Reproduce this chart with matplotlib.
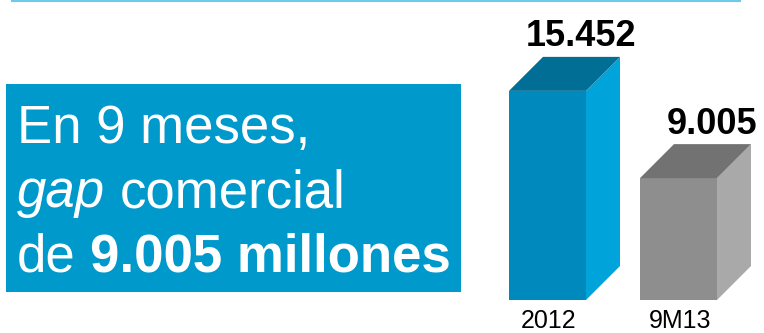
import matplotlib.pyplot as plt
from matplotlib.lines import Line2D
from matplotlib.patches import Polygon, Rectangle

# Chart data
categories = ['2012', '9M13']
values = [15452, 9005]

# Face colours of each 3D column
front_colors = ['#0089bc', '#8e8e8e']
side_colors = ['#00a3da', '#a9a9a9']
top_colors = ['#006e95', '#727272']

# Headline text, one list of (text, weight, style) runs per line
headline = [
    [('En 9 meses,', 'normal', 'normal')],
    [('gap', 'normal', 'italic'), ('comercial', 'normal', 'normal')],
    [('de', 'normal', 'normal'), ('9.005 millones', 'bold', 'normal')],
]

W, H = 764, 333
plt.rcParams['font.family'] = ['Liberation Sans', 'DejaVu Sans']
fig = plt.figure(figsize=(W / 100, H / 100), dpi=100)

# Thin rule across the top
fig.add_artist(Line2D([12 / W, 740 / W], [1 - 1 / H, 1 - 1 / H],
                      color='#6ccbe8', lw=1.5))

# Blue headline box
fig.add_artist(Rectangle((6 / W, 1 - 292 / H), 455 / W, 208 / H,
                         color='#0099cc', transform=fig.transFigure, lw=0))


def write_runs(runs, x_px, base_px, size):
    """Write styled runs one after another on a common baseline."""
    renderer = fig.canvas.get_renderer()
    space = 0.278 * size * 100 / 72
    x = x_px
    for s, weight, style in runs:
        t = fig.text(x / W, 1 - base_px / H, s, color='white',
                     fontsize=size, fontweight=weight, fontstyle=style,
                     ha='left', va='baseline')
        x += t.get_window_extent(renderer).width + space


for line, base in zip(headline, [143, 207, 272]):
    write_runs(line, 17, base, 38)

# 3D columns
ax = fig.add_axes([490 / W, 33 / H, 274 / W, 300 / H])
step = 131.0                    # px between column centres
scale = 0.013534                # px per unit of value
ax.set_xlim(-57.5 / step, (274 - 57.5) / step)
ax.set_ylim(0, 300 / scale)
ax.axis('off')

width = 77 / step
dx = 34 / step
dy = 34 / scale
xs = range(len(values))

ax.bar(xs, values, width=width, color=front_colors, lw=0)
for i, v in zip(xs, values):
    x0, x1 = i - width / 2, i + width / 2
    ax.add_patch(Polygon([(x1, 0), (x1 + dx, dy), (x1 + dx, v + dy), (x1, v)],
                         closed=True, color=side_colors[i], lw=0, clip_on=False))
    ax.add_patch(Polygon([(x0, v), (x1, v), (x1 + dx, v + dy), (x0 + dx, v + dy)],
                         closed=True, color=top_colors[i], lw=0, clip_on=False))
    ax.annotate(f'{v:,}'.replace(',', '.'), xy=(i + dx, v + dy),
                xytext=(0, 7.5), textcoords='offset points',
                ha='center', va='baseline', fontsize=26, fontweight='bold',
                color='black', annotation_clip=False)
    ax.annotate(categories[i], xy=(i, 0), xytext=(1, -20),
                textcoords='offset points', ha='center', va='baseline',
                fontsize=18, color='black', annotation_clip=False)

fig.savefig('out.png', dpi=100)
